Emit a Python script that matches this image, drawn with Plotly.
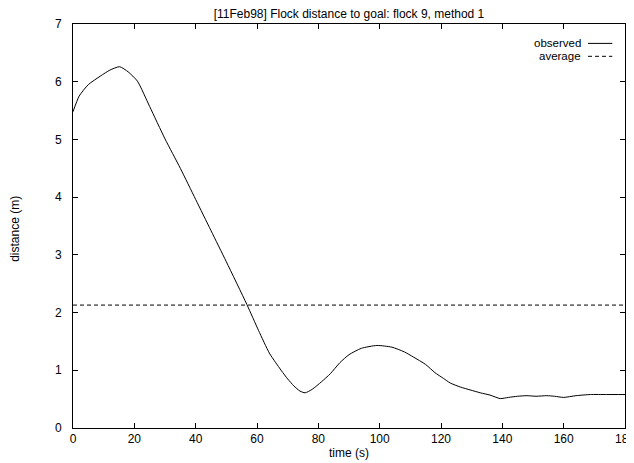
import plotly.graph_objects as go

# flock 9, method 1 -- distance to goal over time
time_s = [0, 2, 5, 9, 12, 15.2, 18, 21, 25, 30, 35, 40, 45, 50, 56.7, 60.5, 64,
          66, 68, 70, 72, 74, 75.7, 78, 81, 83.9, 87, 90, 94, 99.1, 104, 108, 111,
          115, 118, 120.8, 123, 126.3, 129.5, 132.8, 136, 139.3, 142, 145, 148,
          151, 154.5, 157, 160, 164, 168.7, 174, 180]
distance_m = [5.48, 5.75, 5.95, 6.1, 6.2, 6.26, 6.17, 6.01, 5.57, 5.01, 4.5, 3.96,
              3.42, 2.88, 2.14, 1.69, 1.3, 1.14, 0.99, 0.85, 0.73, 0.64, 0.61, 0.67,
              0.8, 0.94, 1.13, 1.27, 1.38, 1.43, 1.40, 1.32, 1.23, 1.1, 0.96, 0.86,
              0.78, 0.71, 0.66, 0.61, 0.57, 0.51, 0.53, 0.55, 0.56, 0.55, 0.56,
              0.55, 0.53, 0.56, 0.58, 0.58, 0.58]
average_m = 2.13
x_ticks = [0, 20, 40, 60, 80, 100, 120, 140, 160, 180]
y_ticks = [0, 1, 2, 3, 4, 5, 6, 7]

FONT = "Liberation Sans, Arial, Helvetica, sans-serif"

fig = go.Figure()
fig.add_trace(go.Scatter(x=time_s, y=distance_m, mode="lines", name="observed",
                         line=dict(color="black", width=1, shape="spline", smoothing=0.6)))
fig.add_trace(go.Scatter(x=[x_ticks[0], x_ticks[-1]], y=[average_m, average_m],
                         mode="lines", name="average",
                         line=dict(color="black", width=1, dash="4px,3px")))

axis_common = dict(showline=True, linecolor="black", linewidth=1, mirror="ticks",
                   ticks="inside", ticklen=5, tickcolor="black", showgrid=False,
                   zeroline=False, tickfont=dict(family=FONT, size=12, color="black"))

fig.update_xaxes(range=[0, 180], tickvals=x_ticks, **axis_common,
                 title=dict(text="time (s)", font=dict(family=FONT, size=12, color="black"),
                            standoff=3))
fig.update_yaxes(range=[0, 7], tickvals=y_ticks, ticklabelstandoff=8, **axis_common)

# gnuplot style key: label right-aligned, sample to the right
for i, (label, dash) in enumerate([("observed", "solid"), ("average", "4px,3px")]):
    ky = 0.952 - i * 0.032
    fig.add_annotation(x=0.9216, y=ky, xref="paper", yref="paper", text=label,
                       showarrow=False, xanchor="right", yanchor="middle", borderpad=0,
                       font=dict(family=FONT, size=11.5, color="black"))
    fig.add_shape(type="line", xref="paper", yref="paper", x0=0.933, x1=0.977,
                  y0=ky, y1=ky, line=dict(color="black", width=1, dash=dash))

fig.add_annotation(x=-0.104, y=0.492, xref="paper", yref="paper", text="distance (m)",
                   textangle=-90, showarrow=False, xanchor="center", yanchor="middle",
                   font=dict(family=FONT, size=12, color="black"))

fig.update_layout(
    width=634, height=463,
    margin=dict(l=65, r=17, t=16, b=43, autoexpand=False),
    paper_bgcolor="white", plot_bgcolor="white",
    showlegend=False,
    title=dict(text="[11Feb98] Flock distance to goal: flock 9, method 1",
               xref="paper", x=0.5, xanchor="center",
               yref="container", y=0.988, yanchor="middle",
               font=dict(family=FONT, size=12, color="black")),
)

fig.write_html("out.html")
